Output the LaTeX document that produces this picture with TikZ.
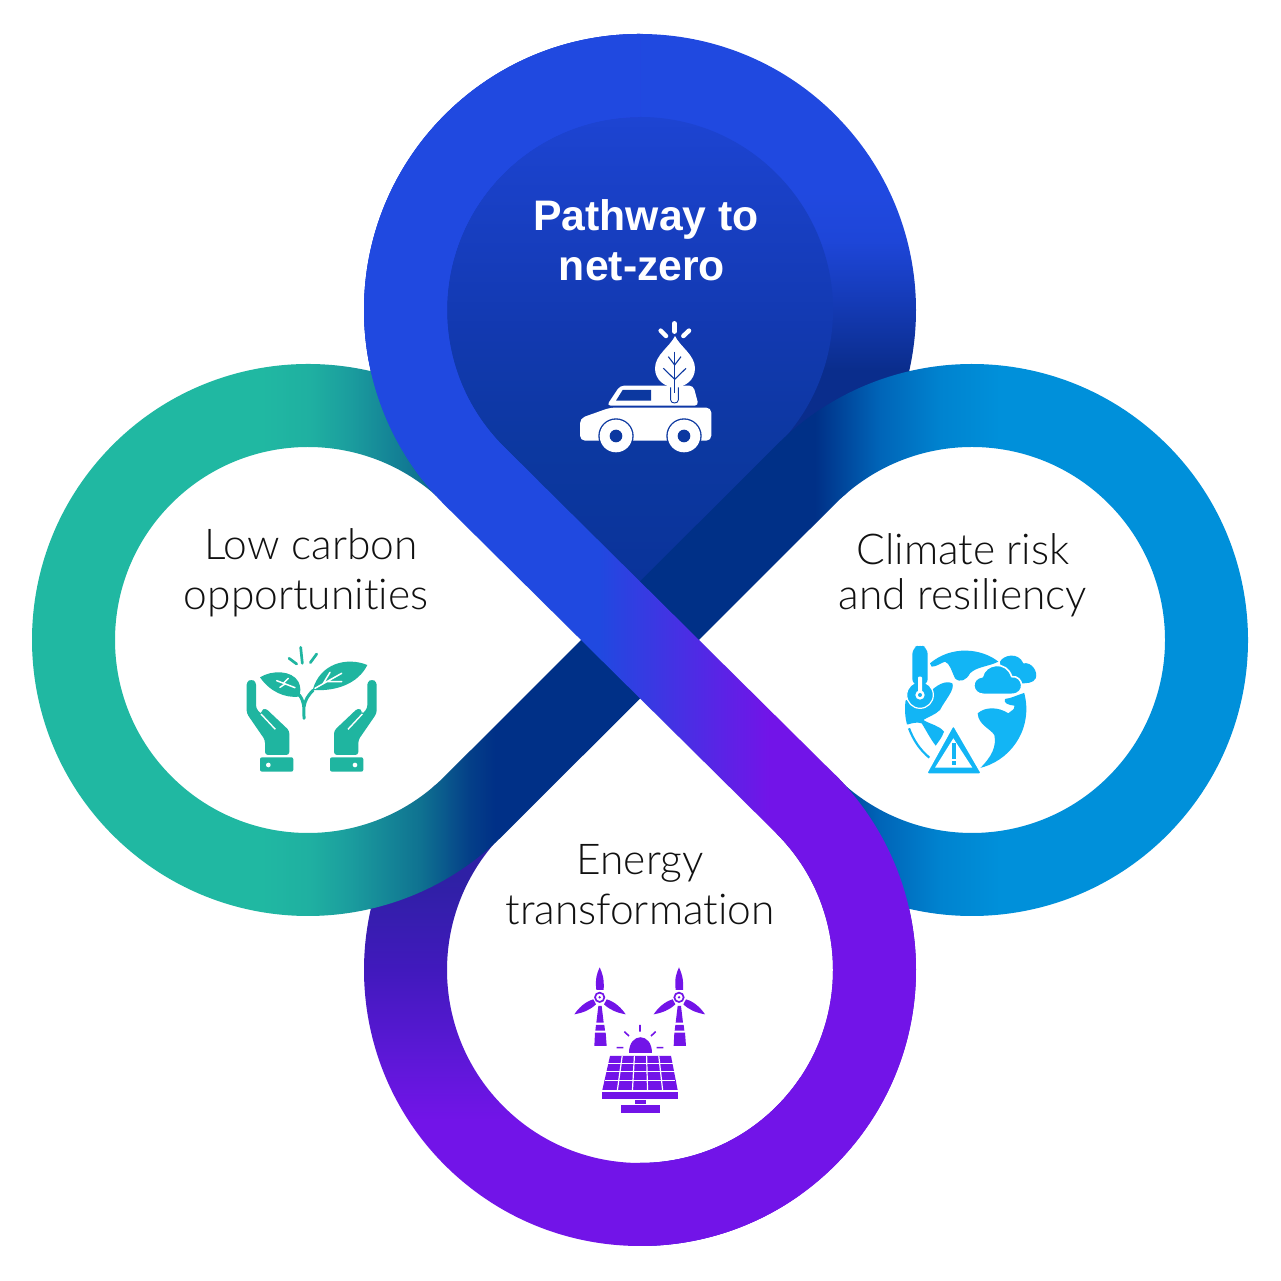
\documentclass[tikz,border=0pt]{standalone}
\usepackage{fontspec}
\setmainfont{Lato}[UprightFont=* Light,Ligatures=NoCommon]
\newfontfamily\headf{Liberation Sans}
\usetikzlibrary{calc}
\definecolor{cteal}{HTML}{20B8A2}
\definecolor{ctealz}{HTML}{1FB0A1}
\definecolor{cteala}{HTML}{1B9D9E}
\definecolor{ctealb}{HTML}{0F7291}
\definecolor{ctealc}{HTML}{043F88}
\definecolor{cnavy}{HTML}{003087}
\definecolor{cskya}{HTML}{0065B8}
\definecolor{cskyb}{HTML}{0083CF}
\definecolor{csky}{HTML}{0090DA}
\definecolor{cbright}{HTML}{2049E0}
\definecolor{cpurple}{HTML}{7214E8}
\definecolor{cringa}{HTML}{1E46D8}
\definecolor{cringb}{HTML}{153BB8}
\definecolor{cringdark}{HTML}{0A2D8C}
\definecolor{cina}{HTML}{1D44D2}
\definecolor{cinb}{HTML}{1239B0}
\definecolor{cinc}{HTML}{0C38A0}
\definecolor{cind}{HTML}{0A339A}
\definecolor{cbota}{HTML}{2F20A5}
\definecolor{cbotb}{HTML}{4119BD}
\definecolor{cbotc}{HTML}{5A18D5}
\definecolor{ciconsky}{HTML}{12B5F5}
\definecolor{ciconteal}{HTML}{1FB5A0}
\definecolor{ctext}{HTML}{111111}
% every stop: bp = 25 + x/25.6 (horizontal) or 75 - ypx/25.6 (vertical), on a 1280 x 1280 rectangle
\pgfdeclarehorizontalshading{sribbonS}{100bp}{color(0bp)=(cteal); color(35.2bp)=(cteal); color(37.1bp)=(ctealz); color(38.67bp)=(cteala); color(41.41bp)=(ctealb); color(43.36bp)=(ctealc); color(44.34bp)=(cnavy); color(56.84bp)=(cnavy); color(59.38bp)=(cskya); color(61.72bp)=(cskyb); color(64.06bp)=(csky); color(100bp)=(csky)}
\pgfdeclarehorizontalshading{sribbonZ}{100bp}{color(0bp)=(cbright); color(48.4bp)=(cbright); color(55.08bp)=(cpurple); color(100bp)=(cpurple)}
\pgfdeclareverticalshading{stopring}{100bp}{color(0bp)=(cringdark); color(60.55bp)=(cringdark); color(63.3bp)=(cringb); color(65.6bp)=(cringa); color(67.5bp)=(cbright); color(100bp)=(cbright)}
\pgfdeclareverticalshading{stopin}{100bp}{color(0bp)=(cind); color(52.3bp)=(cind); color(57.4bp)=(cinc); color(62.1bp)=(cinb); color(70.43bp)=(cina); color(100bp)=(cina)}
\pgfdeclareverticalshading{sbotring}{100bp}{color(0bp)=(cpurple); color(31.25bp)=(cpurple); color(34bp)=(cbotc); color(37.1bp)=(cbotb); color(40.63bp)=(cbota); color(100bp)=(cbota)}
\tikzset{
  labeltext/.style={anchor=base,text=ctext,font=\fontsize{42.5}{42.5}\selectfont,inner sep=0pt},
  headtext/.style={anchor=base,text=white,font=\headf\bfseries\fontsize{42.7}{42.7}\selectfont,inner sep=0pt},
  zoomicon/.style={x=0.33333pt,y=-0.33333pt},
  ray/.style={line width=#1,line cap=round}
}
\newcommand{\gradfill}[2]{\begin{scope}\clip #2;\shade[shading=#1] (0,1) rectangle (1280,1281);\end{scope}}
\begin{document}
\begin{tikzpicture}[x=1pt,y=1pt]
\useasboundingbox (0,0) rectangle (1280,1281);
\fill[white] (0,0) rectangle (1280,1281);
\coordinate (T) at (640,971);
\coordinate (B) at (640,311);
\coordinate (L) at (308,641);
\coordinate (R) at (972,641);
\coordinate (O) at (640,641);
% top drop: ring
\gradfill{stopring}{($(T)+(222:276pt)$) arc (222:-42:276pt) -- (O) -- cycle}
% top drop: interior
\gradfill{stopin}{($(T)+(225:193pt)$) arc (225:-45:193pt) -- (O) -- cycle}
% bottom ring
\gradfill{sbotring}{($(B)+(138:276pt)$) arc (138:405:276pt) -- ($(B)+(45:193pt)$) arc (405:138:193pt) -- cycle}
% left - right ribbon
\gradfill{sribbonS}{($(L)+(48:276pt)$) arc (48:315:276pt) -- ($(R)+(135:193pt)$) arc (135:-132:193pt) -- ($(R)+(-132:276pt)$) arc (-132:135:276pt) -- ($(L)+(-45:193pt)$) arc (315:48:193pt) -- cycle}
% top - bottom ribbon, on top of everything
\begin{scope}
  \clip ($(T)+(90:276pt)$) arc (90:225:276pt) -- ($(B)+(45:193pt)$) arc (45:-90:193pt) -- ($(B)+(-90:276pt)$) arc (-90:45:276pt) -- ($(T)+(225:193pt)$) arc (225:90:193pt) -- cycle;
  \shade[shading=sribbonZ] (0,1) rectangle (1280,1281);
  \fill[cbright] (300,800) rectangle (660,1281);
  \fill[cpurple] (600,0) rectangle (800,300);
\end{scope}
% labels
\node[headtext] (h1) at (646,1050) {Pathway to};
\node[headtext] (h2) at (642,1000) {net-zero};
\node[labeltext] (l1) at (311,721) {Low carbon};
\node[labeltext] (l2) at (306,671) {opportunities};
\node[labeltext] (r1) at (963,716) {Climate risk};
\node[labeltext] (r2) at (963,671) {and resiliency};
\node[labeltext] (b1) at (640,406) {Energy};
\node[labeltext] (b2) at (640,356) {transformation};
% car icon
\begin{scope}[shift={(540pt,1101pt)},zoomicon]
  \foreach \a/\b/\c/\d in {403/430/403/455,362/452/378/468,447/452/430/468}
    \draw[white,ray=4.5pt] (\a,\b) -- (\c,\d);
  \fill[white,rounded corners=4pt] (200,677) -- (240,617) -- (460,617) -- (476,677) -- cycle;
  \fill[cinc] (228,662) -- (248,630) -- (333,630) -- (333,662) -- cycle;
  \fill[white,rounded corners=5pt] (120,782) -- (120,715) -- (210,683) -- (514,683) -- (514,782) -- cycle;
  \foreach \w in {228,432}{
    \fill[cinc] (\w,768) circle[radius=53];
    \fill[white] (\w,768) circle[radius=49];
    \fill[cinc] (\w,768) circle[radius=19];
  }
  \fill[white] (405,468) .. controls (390,500) and (345,525) .. (345,565) .. controls (345,600) and (375,622) .. (405,622) .. controls (435,622) and (465,600) .. (465,565) .. controls (465,525) and (420,500) .. (405,468) -- cycle;
  \draw[white,line width=8pt,line cap=round] (403,610) -- (403,660);
  \draw[cinc,line width=0.9pt] (392,622) -- (392,660) .. controls (392,672) and (415,672) .. (415,660) -- (415,622);
  \draw[cinc,line width=1.1pt] (404,515) -- (404,640);
  \draw[cinc,line width=1.1pt] (404,598) -- (370,565) (404,598) -- (438,565) (404,555) -- (385,530) (404,555) -- (423,530);
\end{scope}
% hands icon
\begin{scope}[shift={(230pt,641pt)},zoomicon]
  \foreach \m in {0,1}{
   \begin{scope}[xshift=\m*163.33pt,xscale=1-2*\m]
    \fill[ciconteal,rounded corners=3pt] (50,125) -- (64,118) -- (78,125) -- (78,205) -- (95,224) -- (93,212) -- (106,204) -- (178,272) -- (178,345) -- (105,345) -- (105,300) -- (50,220) -- cycle;
    \draw[white,line width=1.4pt] (93,222) -- (136,268);
    \fill[ciconteal,rounded corners=2pt] (90,352) rectangle (190,395);
    \fill[white] (115,375) circle[radius=7];
   \end{scope}
  }
  \fill[ciconteal] (90,112) .. controls (125,90) and (185,90) .. (205,125) .. controls (213,140) and (212,155) .. (208,170) .. controls (165,175) and (120,155) .. (90,112) -- cycle;
  \fill[ciconteal] (412,75) .. controls (350,50) and (270,70) .. (248,150) .. controls (320,155) and (385,130) .. (412,75) -- cycle;
  \draw[ciconteal,line width=3pt,line cap=round] (222,235) .. controls (222,195) and (222,185) .. (208,165);
  \draw[ciconteal,line width=3pt] (222,200) .. controls (225,180) and (235,165) .. (250,150);
  \draw[white,line width=1.5pt,line cap=round] (140,122) -- (195,143) (160,130) -- (175,115) (165,132) -- (150,142);
  \draw[white,line width=1.5pt,line cap=round] (255,145) -- (335,100) (280,130) -- (300,97) (290,125) -- (335,125);
  \draw[ciconteal,ray=2.7pt] (212,22) -- (217,70);
  \draw[ciconteal,ray=2.7pt] (177,55) -- (200,72);
  \draw[ciconteal,ray=2.7pt] (260,42) -- (241,68);
\end{scope}
% globe icon
\begin{scope}[shift={(895pt,646pt)},zoomicon]
  \begin{scope}
    \clip (212,222) circle[radius=182];
    \fill[ciconsky] (105,85) .. controls (170,30) and (260,40) .. (310,80) .. controls (280,95) and (245,95) .. (225,115) .. controls (215,135) and (195,145) .. (180,130) .. controls (170,110) and (165,85) .. (150,80) .. controls (135,85) and (125,95) .. (110,95) -- cycle;
    \fill[ciconsky] (20,200) -- (100,175) .. controls (125,150) and (150,135) .. (172,145) .. controls (180,165) and (150,195) .. (135,225) .. controls (120,240) and (100,245) .. (85,255) .. controls (110,270) and (130,270) .. (147,290) .. controls (140,310) and (130,320) .. (122,332) .. controls (105,310) and (90,280) .. (80,265) .. controls (65,260) and (50,265) .. (40,268) -- (20,268) -- cycle;
    \fill[ciconsky] (248,235) .. controls (270,215) and (310,215) .. (340,235) .. controls (350,225) and (360,225) .. (358,212) .. controls (340,210) and (325,205) .. (330,192) .. controls (350,190) and (365,180) .. (400,170) -- (420,400) -- (255,400) .. controls (290,365) and (305,335) .. (298,300) .. controls (285,280) and (250,270) .. (248,235) -- cycle;
  \end{scope}
  \draw[ciconsky,line width=2.2pt] (42,280) .. controls (55,315) and (75,345) .. (103,368);
  \fill[ciconsky] (315,80) .. controls (325,60) and (370,50) .. (385,85) .. controls (410,80) and (430,110) .. (422,130) .. controls (415,145) and (395,145) .. (375,145) -- (320,120) -- cycle;
  \fill[ciconsky,draw=white,line width=1.6pt] (265,178) .. controls (230,178) and (225,130) .. (262,125) .. controls (270,85) and (335,75) .. (350,125) .. controls (385,120) and (395,178) .. (350,178) -- cycle;
  \fill[ciconsky,draw=white,line width=1.2pt] (75,180) circle[radius=40];
  \fill[ciconsky,rounded corners=6pt] (52,150) -- (52,40) -- (75,28) -- (98,40) -- (98,150) -- cycle;
  \fill[white,rounded corners=1pt] (69,125) rectangle (81,175);
  \fill[white] (75,180) circle[radius=14];
  \fill[ciconsky] (75,180) circle[radius=6];
  \fill[ciconsky,draw=white,line width=2pt,rounded corners=3pt,line join=round] (175,268) -- (262,418) -- (92,418) -- cycle;
  \fill[white] (175,310) -- (232,398) -- (120,398) -- cycle;
  \fill[ciconsky] (170,325) rectangle (183,372);
  \fill[ciconsky] (170,378) rectangle (183,390);
\end{scope}
% energy icon
\begin{scope}[shift={(565pt,321pt)},zoomicon]
  \foreach \s in {0,238}{
   \begin{scope}[xshift=\s*0.33333pt]
    \fill[cpurple] (104,22) .. controls (112,40) and (118,55) .. (116,90) -- (94,90) .. controls (90,55) and (96,40) .. (104,22) -- cycle;
    \fill[cpurple] (28,163) .. controls (40,145) and (60,125) .. (85,118) -- (93,133) .. controls (75,150) and (55,158) .. (28,163) -- cycle;
    \fill[cpurple] (182,163) .. controls (170,145) and (150,125) .. (125,118) -- (117,133) .. controls (135,150) and (155,158) .. (182,163) -- cycle;
    \draw[cpurple,line width=1.7pt] (104,112) circle[radius=14];
    \fill[cpurple] (104,112) circle[radius=4];
    \fill[cpurple] (100,138) -- (110,138) -- (116,188) -- (94,188) -- cycle;
    \fill[cpurple] (93,195) -- (118,195) -- (120,212) -- (91,212) -- cycle;
    \fill[cpurple] (90,218) -- (122,218) -- (125,258) -- (88,258) -- cycle;
   \end{scope}
  }
  \fill[cpurple] (192,280) .. controls (192,216) and (260,216) .. (260,280) -- cycle;
  \draw[cpurple,line width=1.6pt] (225,195) -- (225,215) (178,215) -- (192,228) (272,215) -- (258,228) (155,263) -- (175,263) (275,263) -- (295,263);
  \fill[cpurple] (135,288) -- (318,288) -- (338,390) -- (112,390) -- cycle;
  \foreach \i in {1,2,3,4}
    \draw[white,line width=1.2pt] ({135+\i*36.6},288) -- ({112+\i*45.2},390);
  \foreach \yy in {310,335,362}
    \draw[white,line width=1.2pt] (120,\yy) -- (330,\yy);
  \fill[cpurple] (110,396) rectangle (340,416);
  \fill[cpurple] (210,420) rectangle (242,432);
  \fill[cpurple] (168,436) rectangle (285,460);
\end{scope}
\end{tikzpicture}
\end{document}
